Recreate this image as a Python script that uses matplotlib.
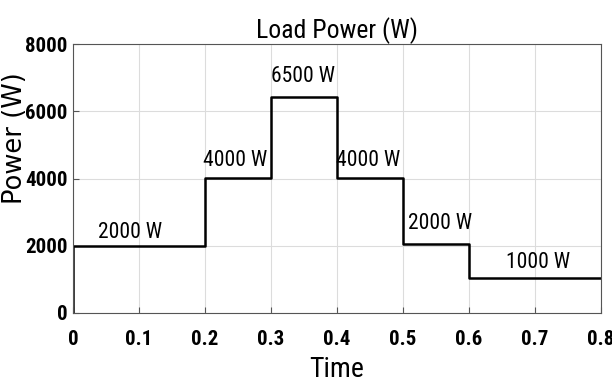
import matplotlib
matplotlib.use('Agg')
import matplotlib.pyplot as plt
from matplotlib import font_manager

# step times and power levels (W)
t_edges = [0.0, 0.2, 0.3, 0.4, 0.5, 0.6, 0.8]
levels = [2000, 4020, 6430, 4020, 2050, 1030]

# annotation labels and where they sit
labels = ['2000 W', '4000 W', '6500 W', '4000 W', '2000 W', '1000 W']
label_t = [0.086, 0.245, 0.349, 0.447, 0.556, 0.705]
label_p = [2400, 4550, 7020, 4550, 2650, 1490]

x_ticks = [0, 0.1, 0.2, 0.3, 0.4, 0.5, 0.6, 0.7, 0.8]
x_tick_labels = ['0', '0.1', '0.2', '0.3', '0.4', '0.5', '0.6', '0.7', '0.8']
y_ticks = [0, 2000, 4000, 6000, 8000]

names = {f.name for f in font_manager.fontManager.ttflist}
narrow = 'Liberation Sans'
for cand in ['Liberation Sans Narrow', 'Arial Narrow', 'Roboto Condensed',
             'PT Sans Narrow', 'Archivo Narrow']:
    if cand in names:
        narrow = cand
        break


def step_points(edges, vals):
    xs = [edges[0]]
    ys = [0]
    for i, v in enumerate(vals):
        xs += [edges[i], edges[i + 1]]
        ys += [v, v]
    return xs, ys


fig = plt.figure(figsize=(6.12, 3.84), dpi=100)
ax = fig.add_axes([73 / 612, 1 - 313 / 384, 528 / 612, 269 / 384])

xs, ys = step_points(t_edges, levels)
ax.plot(xs, ys, color='black', lw=1.8)

for s, t, p in zip(labels, label_t, label_p):
    ax.text(t, p, s, ha='center', va='center', fontsize=15.5, family=narrow)

ax.set_xlim(0, 0.8)
ax.set_ylim(0, 8000)
ax.set_xticks(x_ticks)
ax.set_xticklabels(x_tick_labels)
ax.set_yticks(y_ticks)
ax.grid(True, color='#dcdcdc', lw=0.8)
ax.set_axisbelow(True)
ax.tick_params(direction='in', length=4, color='#555555', labelsize=15)
ax.tick_params(axis='x', pad=12)
ax.tick_params(axis='y', pad=4)
for lab in ax.get_xticklabels() + ax.get_yticklabels():
    lab.set_fontweight('bold')
    lab.set_family(narrow)
for sp in ax.spines.values():
    sp.set_color('#555555')

ax.set_title('Load Power (W)', fontsize=18.5, family=narrow, pad=4)
ax.set_xlabel('Time', fontsize=20, family=narrow, labelpad=5)
ax.set_ylabel('Power (W)', fontsize=18.5, family='DejaVu Sans')
ax.yaxis.set_label_coords(-0.086, 0.65)

fig.savefig('out.png', dpi=100)
